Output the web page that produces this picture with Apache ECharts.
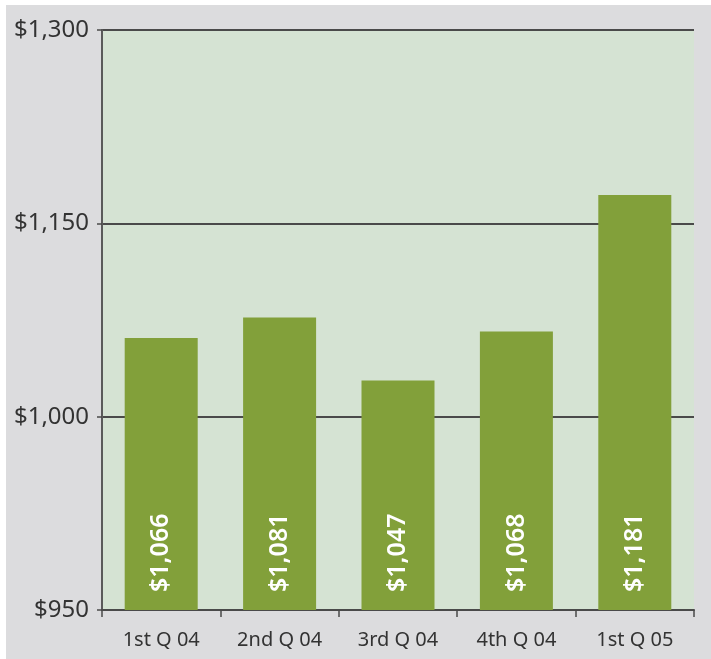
<!DOCTYPE html>
<html>
<head>
<meta charset="utf-8">
<script src="https://cdn.jsdelivr.net/npm/echarts@6/dist/echarts.min.js"></script>
<style>
    html, body { margin: 0; padding: 0; background: #ffffff; }
    #chart { position: absolute; left: 6px; top: 5px; width: 705px; height: 654px; }
</style>
</head>
<body>
<div id="chart"></div>
<script>
// quarters on the x axis
var quarters = ['1st Q 04', '2nd Q 04', '3rd Q 04', '4th Q 04', '1st Q 05'];
// values printed inside the bars
var barLabels = [1066, 1081, 1047, 1068, 1181];
// bar heights as read against the drawn axis
var barValues = [1061, 1077, 1028, 1066, 1172];
// the axis ticks are evenly spaced but labelled like this
var tickValues = [850, 1000, 1150, 1300];
var tickLabels = ['$950', '$1,000', '$1,150', '$1,300'];

function money(v) {
    return '$' + v.toLocaleString('en-US');
}

var myChart = echarts.init(document.getElementById('chart'));

var option = {
    backgroundColor: '#dcdcde',
    textStyle: { fontFamily: 'Noto Sans' },
    grid: {
        left: 96,
        right: 17,
        top: 25,
        bottom: 49,
        show: true,
        backgroundColor: '#d5e3d3',
        borderWidth: 0
    },
    xAxis: {
        type: 'category',
        data: quarters,
        axisLine: { lineStyle: { color: '#4a4a4a', width: 2 } },
        axisTick: { show: true, length: 7, lineStyle: { color: '#4a4a4a', width: 1.5 } },
        axisLabel: { color: '#333333', fontSize: 20, margin: 20 }
    },
    yAxis: {
        type: 'value',
        min: 850,
        max: 1300,
        interval: 150,
        axisLine: { show: true, lineStyle: { color: '#5a5a5a', width: 2 } },
        axisTick: { show: true, length: 5, lineStyle: { color: '#4a4a4a', width: 1.5 } },
        splitLine: { show: true, lineStyle: { color: '#4a4a4a', width: 2 } },
        axisLabel: {
            color: '#333333',
            fontSize: 24,
            margin: 13,
            formatter: function (v) {
                var i = tickValues.indexOf(v);
                return i >= 0 ? tickLabels[i] : '';
            }
        }
    },
    series: [
        {
            type: 'bar',
            barWidth: 73,
            data: barValues,
            itemStyle: { color: '#82a03a' },
            label: {
                show: true,
                position: 'insideBottom',
                distance: 18,
                rotate: 90,
                align: 'left',
                verticalAlign: 'middle',
                color: '#ffffff',
                fontSize: 25,
                fontWeight: 600,
                formatter: function (p) {
                    return money(barLabels[p.dataIndex]);
                }
            },
            z: 3
        }
    ]
};

myChart.setOption(option);
</script>
</body>
</html>
